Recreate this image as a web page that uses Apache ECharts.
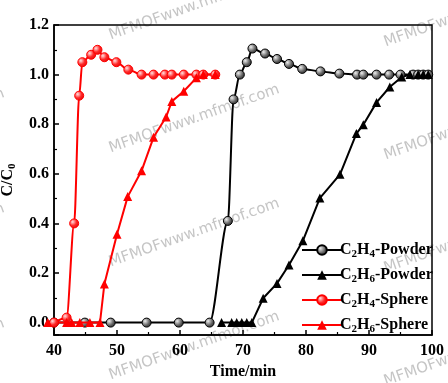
<!DOCTYPE html>
<html>
<head>
<meta charset="utf-8">
<script src="https://cdn.jsdelivr.net/npm/echarts@6/dist/echarts.min.js"></script>
<style>html,body{margin:0;padding:0;background:#fff}#c{width:448px;height:383px}</style>
</head>
<body>
<div id="c"></div>
<script>
// ---- data ----
const xTicks = [40, 50, 60, 70, 80, 90, 100];
const yTicks = [0.0, 0.2, 0.4, 0.6, 0.8, 1.0, 1.2];

const powderC2H4_x = [40, 44.9, 49.0, 54.7, 59.8, 64.7, 67.6, 68.5, 69.5, 70.6, 71.5, 73.5, 75.4, 77.3, 79.4, 82.3, 85.3, 88.1, 89.1, 91.2, 93.2, 95.0, 97.0, 97.8, 98.6, 99.4];
const powderC2H4_y = [0, 0, 0, 0, 0, 0, 0.41, 0.90, 1.0, 1.05, 1.105, 1.085, 1.063, 1.043, 1.023, 1.013, 1.004, 1.0, 1.0, 1.0, 1.0, 1.0, 1.0, 1.0, 1.0, 1.0];

const powderC2H6_x = [66.6, 68.2, 69.0, 69.8, 70.6, 71.4, 73.2, 75.4, 77.3, 79.5, 82.2, 85.4, 88.0, 89.1, 91.2, 93.3, 95.2, 96.5, 97.8, 98.6, 99.4];
const powderC2H6_y = [0, 0, 0, 0, 0, 0, 0.098, 0.158, 0.232, 0.33, 0.502, 0.598, 0.762, 0.798, 0.888, 0.95, 0.99, 1.0, 1.0, 1.0, 1.0];

const sphereC2H4_x = [40, 42.0, 43.2, 44.0, 44.5, 45.9, 46.9, 48.0, 49.9, 51.8, 53.9, 55.8, 57.6, 58.7, 60.6, 62.6, 63.7, 65.6];
const sphereC2H4_y = [0, 0.02, 0.40, 0.915, 1.05, 1.08, 1.10, 1.07, 1.05, 1.02, 1.0, 1.0, 1.0, 1.0, 1.0, 1.0, 1.0, 1.0];

const sphereC2H6_x = [39, 42, 42.8, 44.1, 45.7, 47.3, 48.0, 50.0, 51.7, 53.9, 55.8, 57.8, 58.7, 60.6, 62.6, 63.7, 65.6];
const sphereC2H6_y = [0, 0, 0, 0, 0, 0, 0.156, 0.356, 0.508, 0.612, 0.747, 0.829, 0.892, 0.933, 0.987, 1.0, 1.0];

const seriesNames = ['C2H4-Powder', 'C2H6-Powder', 'C2H4-Sphere', 'C2H6-Sphere'];

// ---- helpers ----
const zip = (xs, ys) => xs.map((x, i) => [x, ys[i]]);
const serif = '"Liberation Serif", "Times New Roman", serif';
const sub = (name) => {
  const m = name.match(/^C(\d)H(\d)(.*)$/);
  return '{a|C}{s|' + m[1] + '}{a|H}{s|' + m[2] + '}{a|' + m[3] + '}';
};
const richBase = {
  a: { fontFamily: serif, fontWeight: 'bold', fontSize: 16, color: '#000' },
  s: { fontFamily: serif, fontWeight: 'bold', fontSize: 11, color: '#000', padding: [9, 0, 0, 0] }
};

const blackBall = {
  type: 'radial', x: 0.35, y: 0.35, r: 0.75,
  colorStops: [{ offset: 0, color: '#eeeeee' }, { offset: 0.55, color: '#666666' }, { offset: 1, color: '#1a1a1a' }]
};
const redBall = {
  type: 'radial', x: 0.35, y: 0.35, r: 0.75,
  colorStops: [{ offset: 0, color: '#ffe0e0' }, { offset: 0.5, color: '#ff2a2a' }, { offset: 1, color: '#e00000' }]
};

// watermark positions (decoration)
const wmPos = [
  [-163, 160], [-163, 275], [-163, 390], [-163, 45],
  [112, 43], [112, 156], [112, 270], [112, 383],
  [387, 50], [387, 163], [387, 276], [387, 389]
];
const graphics = wmPos.map(p => ({
  type: 'text', x: p[0], y: p[1], rotation: 0.34, z: -10, silent: true,
  style: { text: 'MFMOFwww.mfmof.com', fill: 'rgba(140,140,140,0.5)', font: '15px "DejaVu Sans"', align: 'left', verticalAlign: 'bottom' }
}));

const chart = echarts.init(document.getElementById('c'), null, { renderer: 'canvas' });
chart.setOption({
  animation: false,
  backgroundColor: '#fff',
  graphic: graphics,
  grid: { left: 54, right: 16, top: 25, bottom: 48, outerBoundsMode: 'none', containLabel: false,
    show: true, borderColor: '#000', borderWidth: 1.5, backgroundColor: 'transparent' },
  xAxis: {
    type: 'value', min: 40, max: 100, interval: 10,
    name: 'Time/min', nameLocation: 'middle', nameGap: 24,
    nameTextStyle: { fontFamily: serif, fontWeight: 'bold', fontSize: 16, color: '#000' },
    axisLine: { show: true, onZero: false, lineStyle: { color: '#000', width: 1.5 } },
    axisTick: { show: true, inside: true, length: 5, lineStyle: { color: '#000', width: 1.5 } },
    minorTick: { show: true, splitNumber: 2, length: 3, lineStyle: { color: '#000', width: 1.2 } },
    splitLine: { show: false },
    axisLabel: { fontFamily: serif, fontWeight: 'bold', fontSize: 16, color: '#000', margin: 8,
      formatter: v => (xTicks.indexOf(v) >= 0 ? String(v) : '') }
  },
  yAxis: {
    type: 'value', min: -0.05, max: 1.2, splitNumber: 6,
    name: '{a|C/C}{s|0}', nameLocation: 'middle', nameGap: 36,
    nameTextStyle: { rich: richBase },
    axisLine: { show: true, onZero: false, lineStyle: { color: '#000', width: 1.5 } },
    axisTick: { show: true, inside: true, length: 5, lineStyle: { color: '#000', width: 1.5 } },
    minorTick: { show: true, splitNumber: 2, length: 3, lineStyle: { color: '#000', width: 1.2 } },
    splitLine: { show: false },
    axisLabel: { fontFamily: serif, fontWeight: 'bold', fontSize: 16, color: '#000', margin: 5, showMinLabel: false,
      formatter: v => {
        const hit = yTicks.find(t => Math.abs(t - v) < 1e-6);
        return hit === undefined ? '' : hit.toFixed(1);
      } }
  },
  legend: {
    orient: 'vertical', left: 296, top: 237, itemGap: 7, itemWidth: 40, itemHeight: 12,
    data: seriesNames,
    formatter: sub,
    textStyle: { rich: richBase, padding: [0, 0, 0, -7] }
  },
  series: [
    { name: seriesNames[0], type: 'line', data: zip(powderC2H4_x, powderC2H4_y), smooth: 0.3, smoothMonotone: 'x', clip: false, z: 3,
      symbol: 'circle', symbolSize: 9,
      lineStyle: { color: '#000', width: 2 },
      itemStyle: { color: blackBall, borderColor: '#000', borderWidth: 1 } },
    { name: seriesNames[1], type: 'line', data: zip(powderC2H6_x, powderC2H6_y), clip: false, z: 3,
      symbol: 'triangle', symbolSize: 9,
      lineStyle: { color: '#000', width: 2 },
      itemStyle: { color: '#000', borderColor: '#000', borderWidth: 0 } },
    { name: seriesNames[2], type: 'line', data: zip(sphereC2H4_x, sphereC2H4_y), smooth: 0.3, smoothMonotone: 'x', clip: false, z: 4,
      symbol: 'circle', symbolSize: 9,
      lineStyle: { color: '#ff0000', width: 2 },
      itemStyle: { color: redBall, borderColor: '#ff0000', borderWidth: 1 } },
    { name: seriesNames[3], type: 'line', data: zip(sphereC2H6_x, sphereC2H6_y), clip: false, z: 4,
      symbol: 'triangle', symbolSize: 9,
      lineStyle: { color: '#ff0000', width: 2 },
      itemStyle: { color: '#ff0000', borderColor: '#ff0000', borderWidth: 0 } }
  ]
});
</script>
</body>
</html>
